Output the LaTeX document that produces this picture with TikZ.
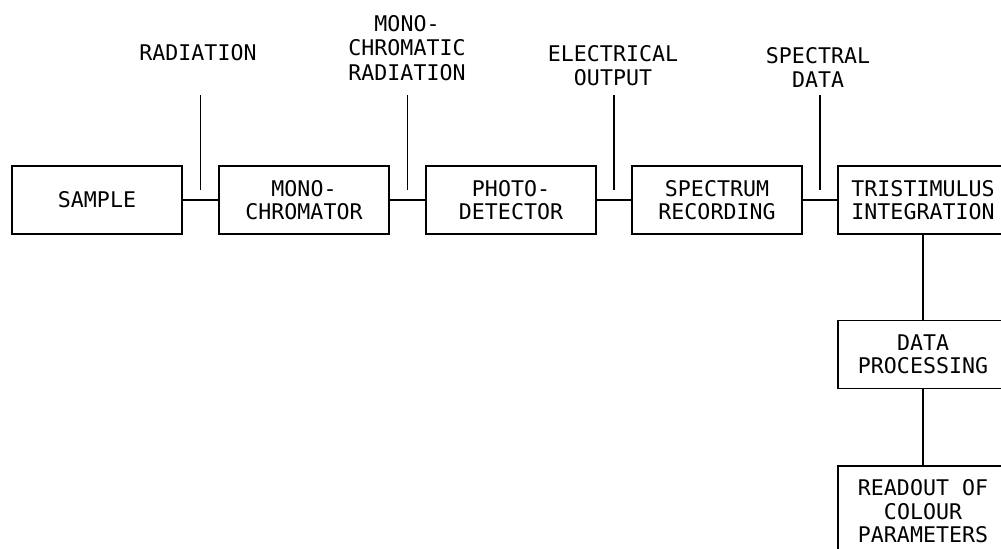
\documentclass[tikz,border=0pt]{standalone}
\usepackage{fontspec}
\newfontfamily\plotfont{DejaVu Sans Mono}
\usetikzlibrary{positioning,calc}
\tikzset{
  stage/.style={draw,line width=0.8pt,align=center,minimum width=85.2pt,
    minimum height=34pt,inner sep=2pt,font=\plotfont\fontsize{10.8}{11.6}\selectfont},
  tag/.style={align=center,inner sep=0pt,font=\plotfont\fontsize{10.8}{12.2}\selectfont},
  wire/.style={line width=0.8pt},
  leader/.style={line width=0.8pt}
}
\begin{document}
\begin{tikzpicture}[x=0.5pt,y=0.5pt,node distance=17pt]
\useasboundingbox (0,0) rectangle (1001,548);
\node[stage] (sample) at (97,348) {SAMPLE};
\node[stage,right=17.5pt of sample] (mono) {MONO-\\CHROMATOR};
\node[stage,right=17.5pt of mono] (photo) {PHOTO-\\DETECTOR};
\node[stage,right=of photo] (spec) {SPECTRUM\\RECORDING};
\node[stage,right=of spec] (tri) {TRISTIMULUS\\INTEGRATION};
\node[stage,below=42.5pt of tri] (proc) {DATA\\PROCESSING};
\node[stage,below=38pt of proc,minimum height=45pt] (readout) {READOUT OF\\COLOUR\\PARAMETERS};
% signal labels
\node[tag] (rad) at (198,495) {RADIATION};
\node[tag] (mrad) at (407,500) {MONO-\\CHROMATIC\\RADIATION};
\node[tag] (elec) at (613,482.5) {ELECTRICAL\\OUTPUT};
\node[tag] (sdat) at (818,480.5) {SPECTRAL\\DATA};
% chain
\draw[wire] (sample) -- (mono);
\draw[wire] (mono) -- (photo);
\draw[wire] (photo) -- (spec);
\draw[wire] (spec) -- (tri);
\draw[wire] (tri) -- (proc);
\draw[wire] (proc) -- (readout);
% leaders from the labels
\foreach \a/\b/\n in {sample/mono/1,mono/photo/2,photo/spec/3,spec/tri/4}{
  \coordinate (j\n) at ($(\a.east)!.5!(\b.west)+(0,5pt)$);
  \coordinate (k\n) at ($(j\n)+(0,47.5pt)$);
  \draw[leader] (j\n) -- (k\n);
}
\end{tikzpicture}
\end{document}
